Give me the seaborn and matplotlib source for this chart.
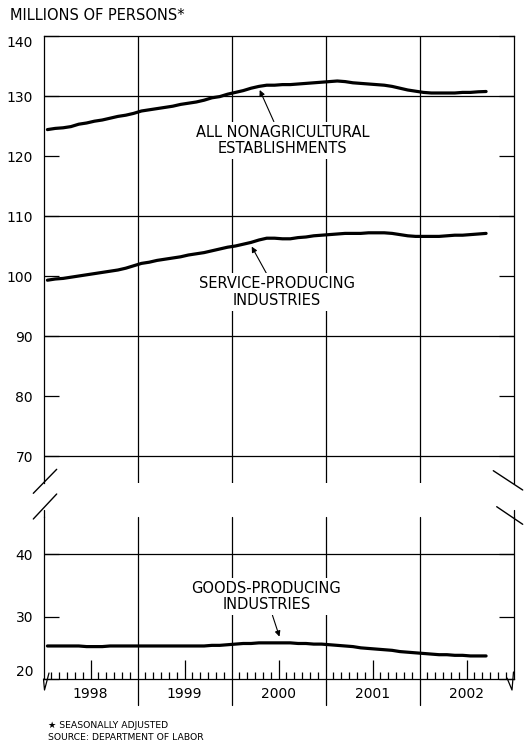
import numpy as np
import pandas as pd
import matplotlib
matplotlib.use("Agg")
import matplotlib.pyplot as plt
import seaborn as sns
from matplotlib.lines import Line2D

# ---------------- data (millions of persons, seasonally adjusted) ----------------
years = [1998, 1999, 2000, 2001, 2002]
year_labels = ["1998", "1999", "2000", "2001", "2002"]
months = pd.date_range("1998-01-01", periods=57, freq="MS")  # Jan 1998 - Sep 2002

total_nonfarm = [
    124.4, 124.6, 124.7, 124.9, 125.3, 125.5, 125.8, 126.0, 126.3, 126.6, 126.8, 127.1,
    127.5, 127.7, 127.9, 128.1, 128.3, 128.6, 128.8, 129.0, 129.3, 129.7, 129.9, 130.3,
    130.6, 130.9, 131.3, 131.6, 131.8, 131.8, 131.9, 131.9, 132.0, 132.1, 132.2, 132.3,
    132.4, 132.5, 132.4, 132.2, 132.1, 132.0, 131.9, 131.8, 131.6, 131.3, 131.0, 130.8,
    130.6, 130.5, 130.5, 130.5, 130.5, 130.6, 130.6, 130.7, 130.75,
]
service_producing = [
    99.3, 99.5, 99.6, 99.8, 100.0, 100.2, 100.4, 100.6, 100.8, 101.0, 101.3, 101.7,
    102.1, 102.3, 102.6, 102.8, 103.0, 103.2, 103.5, 103.7, 103.9, 104.2, 104.5, 104.8,
    105.0, 105.3, 105.6, 106.0, 106.3, 106.3, 106.2, 106.2, 106.4, 106.5, 106.7, 106.8,
    106.9, 107.0, 107.1, 107.1, 107.1, 107.2, 107.2, 107.2, 107.1, 106.9, 106.7, 106.6,
    106.6, 106.6, 106.6, 106.7, 106.8, 106.8, 106.9, 107.0, 107.1,
]
goods_producing = [
    25.3, 25.3, 25.3, 25.3, 25.3, 25.2, 25.2, 25.2, 25.3, 25.3, 25.3, 25.3,
    25.3, 25.3, 25.3, 25.3, 25.3, 25.3, 25.3, 25.3, 25.3, 25.4, 25.4, 25.5,
    25.6, 25.7, 25.7, 25.8, 25.8, 25.8, 25.8, 25.8, 25.7, 25.7, 25.6, 25.6,
    25.5, 25.4, 25.3, 25.2, 25.0, 24.9, 24.8, 24.7, 24.6, 24.4, 24.3, 24.2,
    24.1, 24.0, 23.9, 23.9, 23.8, 23.8, 23.7, 23.7, 23.7,
]

upper_ticks = [70, 80, 90, 100, 110, 120, 130, 140]
upper_grid = [70, 90, 110, 130]
lower_ticks = [20, 30, 40]
lower_grid = [40]

# decimal-year position (middle of each month)
xpos = months.year + (months.month - 0.5) / 12.0
df = pd.DataFrame({
    "x": np.asarray(xpos, dtype=float),
    "total": total_nonfarm,
    "service": service_producing,
    "goods": goods_producing,
})

# ---------------- styling ----------------
sns.set_style("white")
plt.rcParams["font.family"] = ["DejaVu Sans"]
plt.rcParams["axes.linewidth"] = 0.9
plt.rcParams["text.color"] = "black"
plt.rcParams["xtick.color"] = "black"
plt.rcParams["ytick.color"] = "black"
plt.rcParams["axes.labelcolor"] = "black"

W, H = 524, 744
fig = plt.figure(figsize=(W / 100, H / 100), dpi=100)

def fx(px):
    return px / W

def fy(py):
    return 1 - py / H

left_px, right_px = 43.5, 513.5
ax_top = fig.add_axes([fx(left_px), fy(483), fx(right_px - left_px), (483 - 36) / H])
ax_bot = fig.add_axes([fx(left_px), fy(679), fx(right_px - left_px), (679 - 517) / H])

LW = 2.3
sns.lineplot(data=df, x="x", y="total", ax=ax_top, color="black", lw=LW, zorder=5)
sns.lineplot(data=df, x="x", y="service", ax=ax_top, color="black", lw=LW, zorder=5)
sns.lineplot(data=df, x="x", y="goods", ax=ax_bot, color="black", lw=LW, zorder=5)

for ax in (ax_top, ax_bot):
    ax.set_xlim(years[0], years[-1] + 1)
    ax.set_xlabel("")
    ax.set_ylabel("")
    for s in ax.spines.values():
        s.set_color("black")
        s.set_linewidth(0.9)

ax_top.set_ylim(65.5, 140)
ax_bot.set_ylim(20, 46)

ax_top.spines["bottom"].set_visible(False)
ax_bot.spines["top"].set_visible(False)

# y ticks
for ax, ticks, grid in ((ax_top, upper_ticks, upper_grid), (ax_bot, lower_ticks, lower_grid)):
    ax.set_yticks(ticks)
    ax.set_yticklabels([str(t) for t in ticks])
    ax.tick_params(axis="y", which="major", direction="in", length=11, width=0.9,
                   left=True, right=True, labelleft=True, labelright=False,
                   labelsize=10, pad=7.5, colors="black")
    for g in grid:
        ax.axhline(g, color="black", lw=0.9, zorder=1)

# nudge the edge labels inward as in the reference
ax_top.get_yticklabels()[-1].set_verticalalignment("top")
ax_bot.get_yticklabels()[0].set_verticalalignment("bottom")

# x ticks
ax_top.set_xticks([])
ax_top.tick_params(axis="x", bottom=False, labelbottom=False)
mid_years = [y + 0.5 for y in years]
ax_bot.set_xticks(mid_years)
ax_bot.set_xticklabels(year_labels)
minor = [y + k / 12 for y in years for k in range(1, 12) if k != 6]
ax_bot.set_xticks(minor, minor=True)
ax_bot.tick_params(axis="x", which="major", direction="in", length=13.5, width=0.9,
                   bottom=True, top=False, labelsize=10, pad=6, colors="black")
ax_bot.tick_params(axis="x", which="minor", direction="in", length=5, width=0.9,
                   bottom=True, top=False, colors="black")

# year separator lines
for y in years[1:]:
    ax_top.axvline(y, color="black", lw=0.9, zorder=1)
    ax_bot.axvline(y, ymin=-0.16, ymax=1, color="black", lw=0.9, zorder=1, clip_on=False)

# annotations
box = dict(boxstyle="square,pad=0.2", fc="white", ec="none")
arrow = dict(arrowstyle="-|>", color="black", lw=0.8, mutation_scale=8, shrinkA=0, shrinkB=0)
ax_top.annotate("ALL NONAGRICULTURAL\nESTABLISHMENTS", xy=(2000.30, 131.0),
                xytext=(2000.54, 122.6), ha="center", va="center", fontsize=10.5,
                color="black", linespacing=1.15, bbox=box, arrowprops=arrow, zorder=3)
ax_top.annotate("SERVICE-PRODUCING\nINDUSTRIES", xy=(2000.215, 104.9),
                xytext=(2000.48, 97.35), ha="center", va="center", fontsize=10.5,
                color="black", linespacing=1.15, bbox=box, arrowprops=arrow, zorder=3)
ax_bot.annotate("GOODS-PRODUCING\nINDUSTRIES", xy=(2000.51, 26.8),
                xytext=(2000.37, 33.25), ha="center", va="center", fontsize=10.5,
                color="black", linespacing=1.15, bbox=box, arrowprops=arrow, zorder=3)

# axis-break marks
def fig_line(pts, lw=1.0):
    xs = [fx(p[0]) for p in pts]
    ys = [fy(p[1]) for p in pts]
    fig.add_artist(Line2D(xs, ys, transform=fig.transFigure, color="black", lw=lw))

fig_line([(33.3, 493.3), (56.7, 469.3)])
fig_line([(33.3, 519.0), (56.7, 494.0)])
fig_line([(493.3, 470.7), (522.7, 490.0)])
fig_line([(496.7, 506.7), (522.7, 524.3)])
fig_line([(43.5, 510), (43.5, 517)], lw=0.9)
fig_line([(513.5, 510), (513.5, 517)], lw=0.9)
# wavy ends of the time axis
fig_line([(43.5, 679), (44.5, 690), (49.0, 673)], lw=0.9)
fig_line([(507.0, 678), (512.0, 690), (513.5, 672)], lw=0.9)

# titles / notes
fig.text(fx(10), fy(15), "MILLIONS OF PERSONS*", fontsize=10.5, ha="left", va="center",
         color="black")
fig.text(fx(48), fy(725), "\u2605 SEASONALLY ADJUSTED", fontsize=6.7, ha="left", va="center",
         color="black")
fig.text(fx(48), fy(737), "SOURCE: DEPARTMENT OF LABOR", fontsize=6.7, ha="left", va="center",
         color="black")

fig.savefig("out.png", dpi=100)
